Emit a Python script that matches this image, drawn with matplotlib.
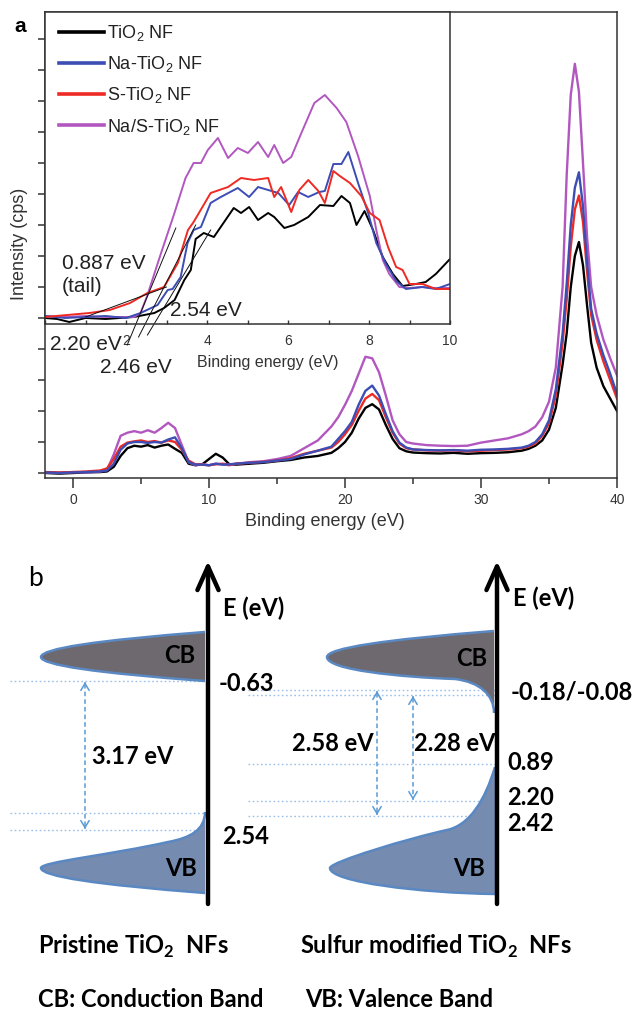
import matplotlib
matplotlib.use('Agg')
import matplotlib.pyplot as plt
from matplotlib.path import Path
from matplotlib.patches import PathPatch
from matplotlib.ticker import FixedLocator
from matplotlib.lines import Line2D

plt.rcParams['font.family'] = ['Liberation Sans', 'DejaVu Sans']
plt.rcParams['mathtext.fontset'] = 'custom'
plt.rcParams['mathtext.rm'] = 'Liberation Sans'
plt.rcParams['mathtext.bf'] = 'Lato:bold'

# ---------------- data: main spectra ----------------
series_labels = ['TiO$_2$ NF', 'Na-TiO$_2$ NF', 'S-TiO$_2$ NF', 'Na/S-TiO$_2$ NF']
series_colors = ['#000000', '#3c4db4', '#ee2a24', '#b257c0']

energy_main = [-2, -1, 0, 1, 2, 2.5, 3, 3.5, 4, 4.5, 5, 5.5, 6, 6.5, 7, 7.5, 8, 8.5, 9, 9.5,
               10, 10.5, 11, 11.5, 12, 13, 14, 15, 16, 17, 18, 19, 19.5, 20, 20.5, 21, 21.5,
               22, 22.5, 23, 23.5, 24, 24.5, 25, 26, 27, 28, 29, 30, 31, 32, 33, 33.5, 34,
               34.5, 35, 35.5, 36, 36.3, 36.6, 36.9, 37.2, 37.5, 37.8, 38.1, 38.5, 39, 39.5, 40]

tio2_main = [0.0, -0.02, 0.0, 0.02, 0.03, 0.05, 0.2, 0.55, 0.8, 0.88, 0.85, 0.9, 0.82, 0.88, 0.92,
             0.78, 0.65, 0.3, 0.25, 0.28, 0.45, 0.62, 0.5, 0.28, 0.27, 0.3, 0.33, 0.38, 0.42, 0.5,
             0.55, 0.65, 0.8, 1.0, 1.3, 1.75, 2.1, 2.22, 2.05, 1.55, 1.1, 0.8, 0.7, 0.66, 0.64,
             0.63, 0.65, 0.62, 0.64, 0.65, 0.67, 0.72, 0.78, 0.88, 1.05, 1.4, 2.1, 3.5, 4.5, 6.0,
             7.0, 7.45, 6.7, 5.4, 4.2, 3.4, 2.8, 2.4, 2.0]

na_main = [0.02, 0.0, 0.02, 0.03, 0.05, 0.08, 0.3, 0.75, 0.95, 1.0, 1.0, 0.97, 1.0, 0.98, 1.08,
           1.15, 0.8, 0.35, 0.27, 0.27, 0.25, 0.3, 0.27, 0.28, 0.3, 0.33, 0.35, 0.4, 0.45, 0.6,
           0.72, 0.85, 1.1, 1.35, 1.65, 2.2, 2.65, 2.82, 2.5, 1.9, 1.35, 0.98, 0.82, 0.76, 0.74,
           0.73, 0.74, 0.72, 0.75, 0.76, 0.78, 0.82, 0.88, 1.0, 1.25, 1.7, 2.7, 4.5, 6.1, 8.0,
           9.2, 9.7, 8.6, 6.8, 5.3, 4.5, 3.8, 3.2, 2.55]

s_main = [0.03, 0.02, 0.03, 0.05, 0.08, 0.15, 0.45, 0.85, 0.98, 1.02, 1.05, 1.0, 1.03, 0.98, 1.05,
          1.0, 0.75, 0.4, 0.28, 0.27, 0.25, 0.28, 0.3, 0.27, 0.3, 0.33, 0.36, 0.4, 0.48, 0.62,
          0.72, 0.82, 1.0, 1.25, 1.55, 2.0, 2.4, 2.55, 2.35, 1.8, 1.3, 0.95, 0.8, 0.76, 0.73,
          0.72, 0.73, 0.7, 0.72, 0.74, 0.76, 0.8, 0.85, 0.95, 1.2, 1.6, 2.5, 4.2, 5.6, 7.3,
          8.5, 8.95, 8.1, 6.5, 5.1, 4.3, 3.6, 3.0, 2.4]

nas_main = [0.02, 0.0, 0.03, 0.02, 0.05, 0.1, 0.6, 1.2, 1.3, 1.35, 1.3, 1.38, 1.3, 1.45, 1.62,
            1.45, 0.9, 0.35, 0.25, 0.28, 0.25, 0.3, 0.28, 0.25, 0.3, 0.35, 0.38, 0.45, 0.55, 0.8,
            1.05, 1.5, 1.8, 2.2, 2.65, 3.2, 3.75, 3.7, 3.25, 2.5, 1.7, 1.25, 1.0, 0.95, 0.9,
            0.88, 0.87, 0.88, 0.98, 1.05, 1.12, 1.25, 1.35, 1.5, 1.8, 2.3, 3.4, 6.0, 9.6, 12.2,
            13.2, 12.3, 10.0, 7.6, 6.0, 5.1, 4.3, 3.7, 3.15]

# ---------------- data: inset (valence band edge) ----------------
tio2_in_x = [0, 0.3, 0.6, 1.0, 1.5, 2.2, 2.7, 2.94, 3.2, 3.44, 3.6, 3.72, 3.92, 4.17, 4.66, 4.84,
             5.04, 5.26, 5.51, 5.66, 5.91, 6.15, 6.5, 6.79, 7.12, 7.32, 7.53, 7.69, 7.89, 8.1,
             8.34, 8.59, 8.83, 9.16, 9.4, 9.65, 10.0]
tio2_in_y = [6, 5, 2, 6, 5, 7, 11, 16, 24, 44, 54, 85, 91, 87, 116, 111, 117, 104, 111, 107, 96,
             99, 107, 119, 118, 128, 121, 99, 113, 94, 67, 50, 38, 40, 42, 50, 65]

na_in_x = [0, 0.5, 1.0, 1.5, 2.0, 2.36, 2.78, 3.03, 3.15, 3.35, 3.52, 3.67, 3.85, 4.09, 4.34,
           4.76, 5.04, 5.26, 5.51, 5.76, 6.03, 6.25, 6.5, 6.77, 6.91, 7.12, 7.32, 7.49, 7.73,
           7.98, 8.18, 8.42, 8.67, 8.91, 9.32, 9.65, 10.0]
na_in_y = [8, 6, 7, 8, 6, 11, 19, 34, 35, 47, 81, 94, 97, 121, 127, 136, 127, 137, 134, 131, 119,
           132, 127, 132, 133, 160, 160, 172, 141, 111, 81, 60, 43, 35, 37, 35, 40]

s_in_x = [0, 0.55, 1.1, 1.6, 2.1, 2.53, 2.94, 3.28, 3.53, 3.67, 4.09, 4.52, 4.84, 5.16, 5.51,
          5.66, 5.83, 6.08, 6.28, 6.5, 6.75, 6.91, 7.12, 7.28, 7.53, 7.81, 8.02, 8.26, 8.47,
          8.67, 8.83, 9.0, 9.32, 9.65, 10.0]
s_in_y = [7, 9, 11, 14, 21, 31, 37, 61, 94, 102, 131, 137, 146, 144, 146, 127, 137, 112, 134,
          144, 133, 121, 153, 148, 141, 128, 111, 104, 77, 57, 54, 40, 40, 35, 35]

nas_in_x = [0, 0.5, 1.0, 1.5, 2.0, 2.2, 2.36, 2.53, 2.85, 3.18, 3.47, 3.67, 3.85, 4.02, 4.27,
            4.52, 4.76, 5.01, 5.26, 5.51, 5.66, 5.88, 6.08, 6.33, 6.65, 6.91, 7.2, 7.44, 7.73,
            8.02, 8.18, 8.34, 8.5, 8.75, 9.0, 9.3, 9.6, 10.0]
nas_in_y = [8, 7, 8, 7, 7, 7, 11, 29, 69, 109, 146, 161, 161, 174, 186, 166, 176, 171, 182, 167,
            179, 161, 167, 191, 221, 229, 216, 202, 168, 128, 94, 64, 50, 37, 36, 37, 36, 36]

# onset (tangent) lines in the inset: (x0, x1), (y0, y1)
tangent_x = [(1.0, 3.0), (2.03, 3.23), (2.31, 3.72), (2.53, 4.09)]
tangent_y = [(7, 37), (-21, 96), (-13, 99), (-11, 94)]
onset_labels = ['0.887 eV\n(tail)', '2.54 eV', '2.20 eV', '2.46 eV']

# ---------------- data: band diagram labels ----------------
pristine_levels = ['-0.63', '2.54']
pristine_gap = '3.17 eV'
modified_levels = ['-0.18/-0.08', '0.89', '2.20', '2.42']
modified_gaps = ['2.58 eV', '2.28 eV']

# =====================================================================
W, H = 633, 1021
fig = plt.figure(figsize=(W / 100, H / 100), dpi=100)


def fx(x):
    return x / W


def fy(y):
    return 1 - y / H


# ---------- panel b canvas (pixel coordinates) ----------
axb = fig.add_axes([0, 0, 1, 1], zorder=0)
axb.set_xlim(0, W)
axb.set_ylim(H, 0)
axb.axis('off')
axb.patch.set_visible(False)

# ---------- main axes ----------
ax = fig.add_axes([fx(45), fy(478), fx(617) - fx(45), fy(12) - fy(478)], zorder=1)
main_series = [tio2_main, na_main, s_main, nas_main]
for idx in [0, 3, 2, 1]:
    ax.plot(energy_main, main_series[idx], color=series_colors[idx], lw=1.7)
ax.set_xlim(-2.06, 40)
ax.set_ylim(-5 / 31, 461 / 31)
ax.set_xticks([0, 10, 20, 30, 40])
ax.xaxis.set_minor_locator(FixedLocator([5, 15, 25, 35]))
ax.set_yticks(list(range(0, 15)))
ax.set_yticklabels([])
ax.tick_params(axis='x', which='major', direction='out', length=7, width=1.1,
               labelsize=10, pad=4, colors='#333333')
ax.tick_params(axis='x', which='minor', direction='out', length=4, width=1.1, colors='#333333')
ax.tick_params(axis='y', direction='out', length=5, width=1.1, colors='#333333')
for sp in ax.spines.values():
    sp.set_color('#333333')
    sp.set_linewidth(1.1)
ax.set_xlabel('Binding energy (eV)', fontsize=13, color='#333333')
ax.xaxis.label.set_va('center')
ax.xaxis.set_label_coords((325 - 45) / 572, (478 - 522) / 466)
ax.set_ylabel('Intensity (cps)', fontsize=13, color='#333333')
ax.yaxis.label.set_va('center')
ax.yaxis.set_label_coords((20 - 45) / 572, (478 - 244) / 466)

# ---------- inset ----------
ins = fig.add_axes([fx(45), fy(324), fx(450) - fx(45), fy(12) - fy(324)], zorder=3)
ins_x = [tio2_in_x, na_in_x, s_in_x, nas_in_x]
ins_y = [tio2_in_y, na_in_y, s_in_y, nas_in_y]
for idx in [0, 3, 1, 2]:
    ins.plot(ins_x[idx], ins_y[idx], color=series_colors[idx], lw=1.4)
for (x0, x1), (y0, y1) in zip(tangent_x, tangent_y):
    ins.plot([x0, x1], [y0, y1], color='#111111', lw=0.7, clip_on=False)
ins.set_xlim(0, 10)
ins.set_ylim(0, 312)
ins.set_xticks([0, 2, 4, 6, 8, 10])
ins.set_xticklabels(['', '2', '4', '6', '8', '10'])
ins.xaxis.set_minor_locator(FixedLocator([1, 3, 5, 7, 9]))
ins.set_yticks([])
ins.tick_params(axis='x', which='both', direction='in', length=3, width=1.0,
                labelsize=10, pad=7, colors='#333333')
for sp in ins.spines.values():
    sp.set_color('#333333')
    sp.set_linewidth(1.1)
ins.set_xlabel('Binding energy (eV)', fontsize=11.5, color='#333333')
ins.xaxis.label.set_va('center')
ins.xaxis.set_label_coords((268 - 45) / 405, (324 - 362) / 312)

handles = [Line2D([], [], color=c, lw=2.6) for c in series_colors]
ins.legend(handles, series_labels, loc='upper left', bbox_to_anchor=(fx(59), fy(23)),
           bbox_transform=fig.transFigure, frameon=False, fontsize=13, handlelength=2.5,
           handletextpad=0.15, labelspacing=0.62, borderpad=0, borderaxespad=0,
           labelcolor='#222222')

# onset annotations (pixel positions)
onset_pos = [(62, 275), (170, 310), (50, 345), (100, 367)]
for (px, py), s in zip(onset_pos, onset_labels):
    fig.text(fx(px), fy(py), s, fontsize=15, ha='left', va='center', color='#222222',
             linespacing=1.25, zorder=5)

fig.text(fx(20), fy(26), 'a', fontsize=15, fontweight='bold', ha='center', va='center')

# ---------- panel b: band diagram ----------
cb_color = '#6d696e'
vb_color = '#768bb0'
edge_color = '#5a88c2'
M, L, C3, C4, CL = Path.MOVETO, Path.LINETO, Path.CURVE3, Path.CURVE4, Path.CLOSEPOLY


def band(curve_verts, curve_codes, fc):
    fill = Path(curve_verts + [curve_verts[0], curve_verts[0]],
                curve_codes + [L, CL])
    axb.add_patch(PathPatch(fill, fc=fc, ec='none', zorder=2))
    axb.add_patch(PathPatch(Path(curve_verts, curve_codes), fc='none', ec=edge_color,
                            lw=1.8, zorder=3))


# pristine CB and VB
band([(205, 632), (41, 644.5), (41, 657), (41, 669), (205, 681)],
     [M, C3, C3, C3, C3], cb_color)
band([(205, 812), (205, 830), (190, 838), (168, 842), (110, 855), (41, 862), (41, 868),
      (41, 880.5), (205, 893)],
     [M, C4, C4, C4, C4, C4, C4, C3, C3], vb_color)
# sulfur-modified CB and VB
band([(494, 631), (327, 644), (327, 657), (327, 670), (400, 677), (455, 679), (480, 682),
      (494, 695), (494, 713)],
     [M, C3, C3, C4, C4, C4, C4, C4, C4], cb_color)
band([(495, 767), (485, 800), (470, 825), (447, 830), (410, 838), (330, 862), (330, 868),
      (330, 882), (420, 893), (495, 894)],
     [M, C4, C4, C4, C4, C4, C4, C4, C4, C4], vb_color)

# energy axes
for xa in (208, 497):
    axb.annotate('', xy=(xa, 561), xytext=(xa, 904),
                 arrowprops=dict(arrowstyle='->,head_length=0.85,head_width=0.38',
                                 lw=3.2, color='black', mutation_scale=20,
                                 shrinkA=0, shrinkB=0), zorder=4)

# dotted level lines
dot_color = '#9cc0e9'
for yl in (681, 813, 830):
    axb.plot([10, 205], [yl, yl], color=dot_color, lw=1.0, ls=(0, (1.2, 1.8)), zorder=1)
for yl in (690, 695, 764, 801, 816):
    axb.plot([248, 495], [yl, yl], color=dot_color, lw=1.0, ls=(0, (1.2, 1.8)), zorder=1)

# gap arrows
gap_color = '#5b9bd5'
for xa, y0, y1 in [(85, 682, 829), (377, 691, 815), (413, 696, 800)]:
    axb.plot([xa, xa], [y0 + 2, y1 - 2], color=gap_color, lw=1.1, ls=(0, (3, 2)), zorder=3)
    for tip, tail in [(y0, y0 + 2), (y1, y1 - 2)]:
        axb.annotate('', xy=(xa, tip), xytext=(xa, tail),
                     arrowprops=dict(arrowstyle='->,head_length=0.5,head_width=0.3',
                                     lw=1.1, color=gap_color, mutation_scale=10,
                                     shrinkA=0, shrinkB=0), zorder=3)

tk = dict(fontfamily=['Lato', 'DejaVu Sans'], fontweight='bold', fontsize=17,
          ha='left', va='center', color='black', zorder=5)
axb.text(223, 608, 'E (eV)', **tk)
axb.text(513, 598, 'E (eV)', **tk)
axb.text(164, 655, 'CB', **tk)
axb.text(456, 658, 'CB', **tk)
axb.text(165, 868, 'VB', **tk)
axb.text(453, 868, 'VB', **tk)
axb.text(219, 683, pristine_levels[0], **tk)
axb.text(222, 836, pristine_levels[1], **tk)
axb.text(92, 756, pristine_gap, **tk)
axb.text(511, 692, modified_levels[0], **tk)
axb.text(507, 762, modified_levels[1], **tk)
axb.text(507, 797, modified_levels[2], **tk)
axb.text(507, 823, modified_levels[3], **tk)
axb.text(292, 743, modified_gaps[0], **tk)
axb.text(414, 743, modified_gaps[1], **tk)
axb.text(38, 946, r'Pristine TiO$_\mathbf{2}$  NFs', **tk)
axb.text(300, 946, r'Sulfur modified TiO$_\mathbf{2}$  NFs', **tk)
axb.text(38, 999, 'CB: Conduction Band', **tk)
axb.text(305, 999, 'VB: Valence Band', **tk)
axb.text(36, 578, 'b', fontfamily=['Lato', 'DejaVu Sans'], fontsize=19, ha='center',
         va='center', color='black')

fig.savefig('out.png', dpi=100)
